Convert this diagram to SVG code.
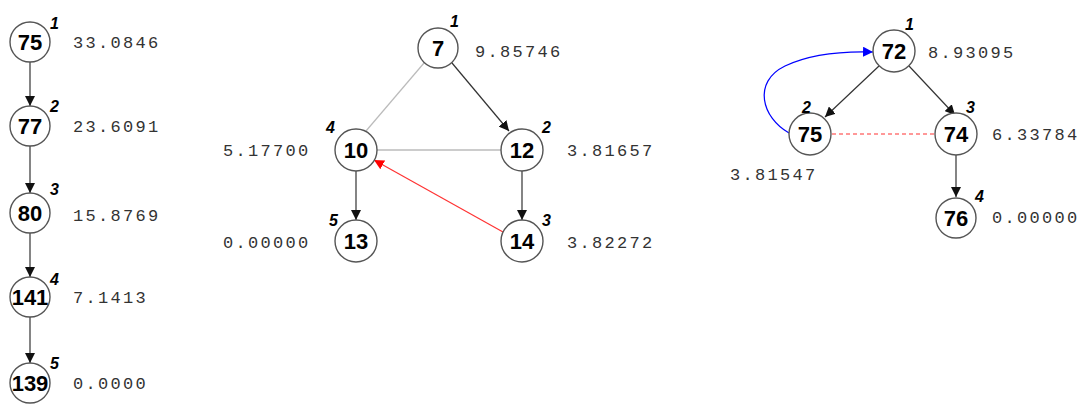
<svg xmlns="http://www.w3.org/2000/svg" width="1081" height="405" viewBox="0 0 1081 405">
<style>
.n circle{fill:#fff;stroke:#555;stroke-width:1.4}
.id{font-family:"Liberation Sans",Arial,sans-serif;font-weight:bold;font-size:22px;text-anchor:middle;fill:#000}
.ord{font-family:"Liberation Sans",Arial,sans-serif;font-weight:bold;font-style:italic;font-size:16px;fill:#000}
.val{font-family:"Liberation Mono","Courier New",monospace;font-size:17px;letter-spacing:2.3px;fill:#333}
.e{fill:none;stroke-width:1.2}
.k{stroke:#333}
</style>
<defs>
<marker id="ak" viewBox="0 0 10 10" refX="10" refY="5" markerWidth="10" markerHeight="10" markerUnits="userSpaceOnUse" orient="auto"><path d="M0,0 L10,5 L0,10 z" fill="#111"/></marker>
<marker id="ar" viewBox="0 0 10 10" refX="10" refY="5" markerWidth="10" markerHeight="10" markerUnits="userSpaceOnUse" orient="auto"><path d="M0,0 L10,5 L0,10 z" fill="#f00"/></marker>
<marker id="ab" viewBox="0 0 10 10" refX="10" refY="5" markerWidth="10" markerHeight="10" markerUnits="userSpaceOnUse" orient="auto"><path d="M0,0 L10,5 L0,10 z" fill="#00f"/></marker>
</defs>
<g id="connectors">
<line class="e k" x1="30" y1="62" x2="30" y2="106" marker-end="url(#ak)"/>
<line class="e k" x1="30" y1="146" x2="30" y2="193" marker-end="url(#ak)"/>
<line class="e k" x1="30" y1="233" x2="30" y2="277" marker-end="url(#ak)"/>
<line class="e k" x1="30" y1="317" x2="30" y2="363" marker-end="url(#ak)"/>
<line class="e" stroke="#bbb" x1="424" y1="63" x2="366" y2="131"/>
<line class="e" stroke="#999" x1="377" y1="150" x2="501" y2="150"/>
<line class="e k" x1="452" y1="63" x2="509" y2="131" marker-end="url(#ak)"/>
<line class="e k" x1="356" y1="171" x2="356" y2="220" marker-end="url(#ak)"/>
<line class="e k" x1="522" y1="171" x2="522" y2="220" marker-end="url(#ak)"/>
<line class="e" stroke="#f33" x1="503" y1="232" x2="374" y2="160" marker-end="url(#ar)"/>
<line class="e k" x1="879" y1="66" x2="825" y2="117" marker-end="url(#ak)"/>
<line class="e k" x1="909" y1="66" x2="955" y2="115" marker-end="url(#ak)"/>
<line class="e k" x1="956" y1="155" x2="956" y2="197" marker-end="url(#ak)"/>
<line class="e" stroke="#f33" stroke-dasharray="4,3" x1="832" y1="134" x2="935" y2="134"/>
<path class="e" stroke="#00f" d="M789 133 C762 118 752 82 785 66 C810 54 840 51 873 52" marker-end="url(#ab)"/>
</g>
<g id="n75a" class="n"><circle cx="30" cy="42" r="20"/><text class="id" x="30" y="50">75</text><text class="ord" x="50" y="29">1</text><text class="val" x="73" y="48">33.0846</text></g>
<g id="n77" class="n"><circle cx="30" cy="126" r="20"/><text class="id" x="30" y="134">77</text><text class="ord" x="50" y="112">2</text><text class="val" x="73" y="132">23.6091</text></g>
<g id="n80" class="n"><circle cx="30" cy="213" r="20"/><text class="id" x="30" y="221">80</text><text class="ord" x="50" y="195">3</text><text class="val" x="73" y="221">15.8769</text></g>
<g id="n141" class="n"><circle cx="30" cy="297" r="20"/><text class="id" x="30" y="305">141</text><text class="ord" x="50" y="285">4</text><text class="val" x="73" y="303">7.1413</text></g>
<g id="n139" class="n"><circle cx="30" cy="383" r="20"/><text class="id" x="30" y="391">139</text><text class="ord" x="50" y="369">5</text><text class="val" x="73" y="389">0.0000</text></g>
<g id="n7" class="n"><circle cx="438" cy="48" r="20"/><text class="id" x="438" y="56">7</text><text class="ord" x="450" y="27">1</text><text class="val" x="475" y="57">9.85746</text></g>
<g id="n10" class="n"><circle cx="356" cy="150" r="21"/><text class="id" x="356" y="158">10</text><text class="ord" x="326" y="133">4</text><text class="val" x="223" y="156">5.17700</text></g>
<g id="n12" class="n"><circle cx="522" cy="150" r="21"/><text class="id" x="522" y="158">12</text><text class="ord" x="542" y="133">2</text><text class="val" x="567" y="156">3.81657</text></g>
<g id="n13" class="n"><circle cx="356" cy="241" r="21"/><text class="id" x="356" y="249">13</text><text class="ord" x="329" y="226">5</text><text class="val" x="223" y="248">0.00000</text></g>
<g id="n14" class="n"><circle cx="522" cy="241" r="21"/><text class="id" x="522" y="249">14</text><text class="ord" x="542" y="226">3</text><text class="val" x="567" y="248">3.82272</text></g>
<g id="n72" class="n"><circle cx="894" cy="51" r="21"/><text class="id" x="894" y="59">72</text><text class="ord" x="905" y="30">1</text><text class="val" x="928" y="58">8.93095</text></g>
<g id="n75b" class="n"><circle cx="810" cy="134" r="21"/><text class="id" x="810" y="142">75</text><text class="ord" x="802" y="113">2</text><text class="val" x="730" y="180">3.81547</text></g>
<g id="n74" class="n"><circle cx="956" cy="134" r="21"/><text class="id" x="956" y="142">74</text><text class="ord" x="966" y="113">3</text><text class="val" x="992" y="140">6.33784</text></g>
<g id="n76" class="n"><circle cx="956" cy="218" r="20"/><text class="id" x="956" y="226">76</text><text class="ord" x="975" y="202">4</text><text class="val" x="992" y="223">0.00000</text></g>
</svg>
